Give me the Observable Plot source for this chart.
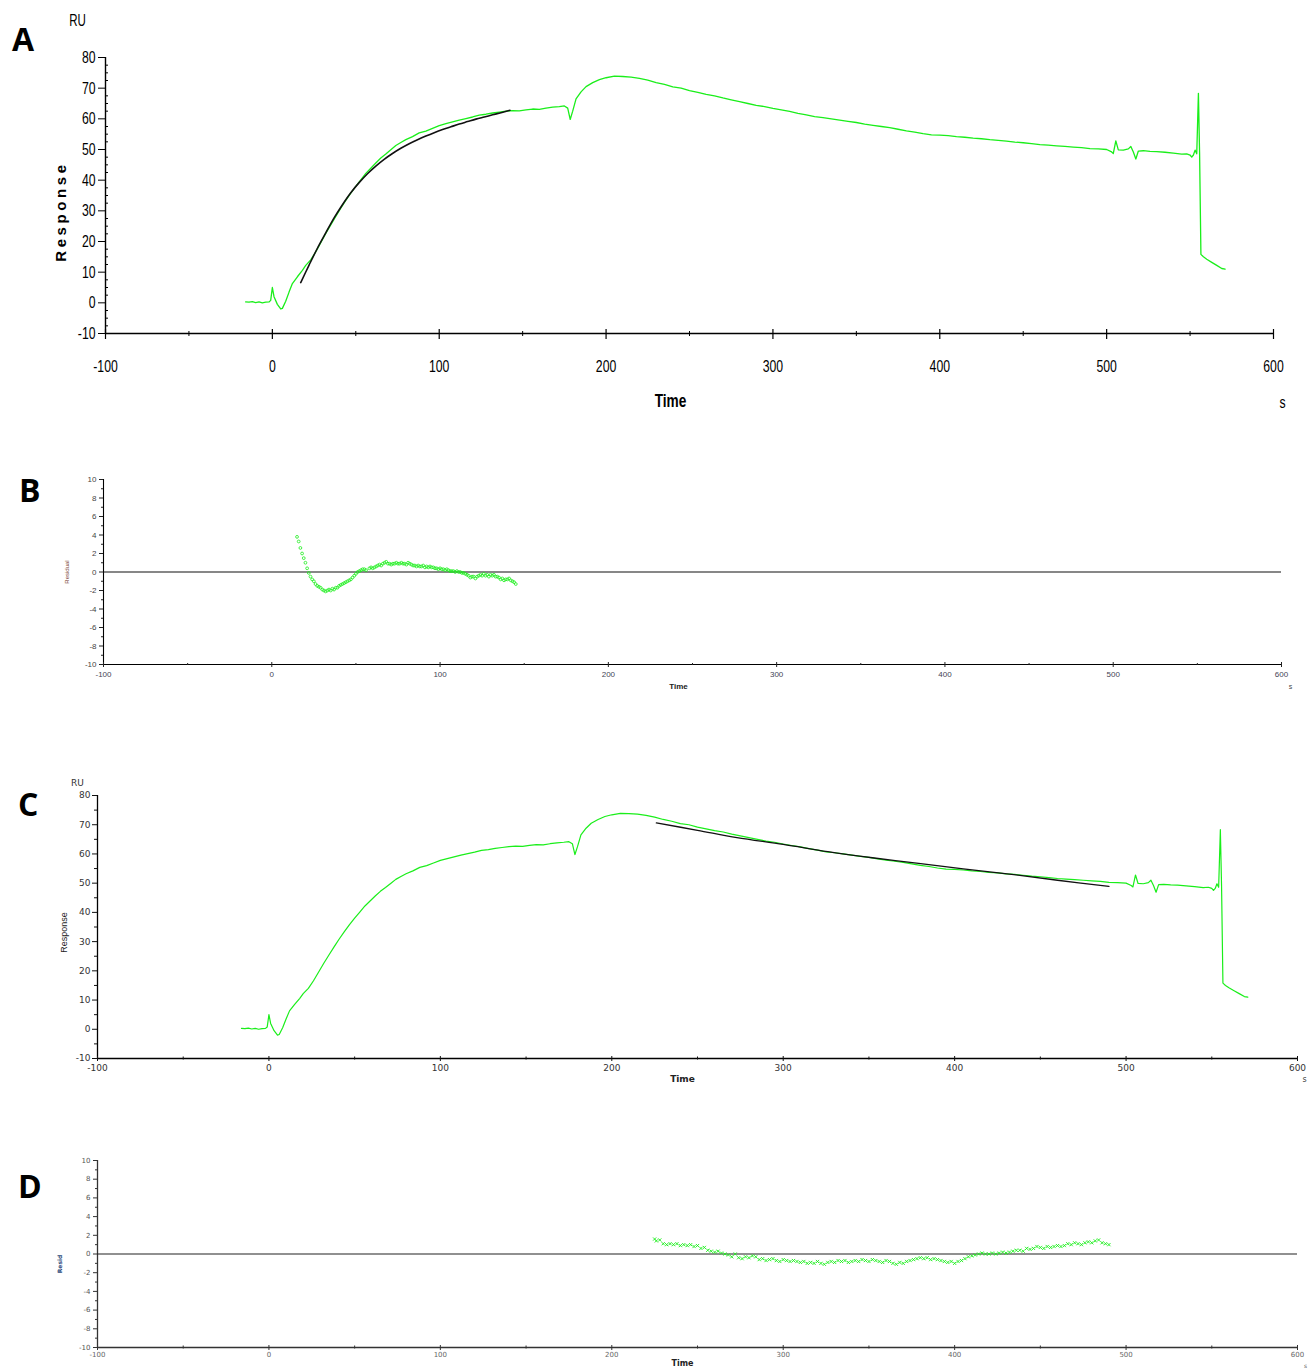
<!DOCTYPE html>
<html><head><meta charset="utf-8">
<script src="https://cdn.jsdelivr.net/npm/d3@7"></script>
<script src="https://cdn.jsdelivr.net/npm/@observablehq/plot@0.6"></script>
<style>
html,body{margin:0;padding:0;background:#fff;}
#wrap{position:relative;width:1309px;height:1370px;overflow:hidden;background:#fff;}
.panel{position:absolute;left:0;}
.panel svg{overflow:visible;}
.letter{position:absolute;font-family:"Open Sans","Liberation Sans",sans-serif;font-weight:700;font-size:32px;line-height:32px;color:#000;}
</style></head>
<body><div id="wrap">
<div class="panel" id="pA" style="top:0px"></div>
<div class="panel" id="pB" style="top:440px"></div>
<div class="panel" id="pC" style="top:760px"></div>
<div class="panel" id="pD" style="top:1120px"></div>
<div class="letter" style="left:12px;top:23px">A</div>
<div class="letter" style="left:19px;top:474px">B</div>
<div class="letter" style="left:18px;top:788px">C</div>
<div class="letter" style="left:18px;top:1170px">D</div>
</div>
<script>
// ---------- data (time s, response RU) ----------
const sensorgram = [
[-16,0.3],[-14,0.2],[-12,0.4],[-10,0.1],[-8,0.3],[-6,0.0],[-4,0.2],[-2,0.3],[-1,0.8],[0,5.0],[1,2.0],[3,-0.5],[5,-2.0],[6,-1.8],[8,0.5],[10,3.5],[12,6.3],[15,8.5],[18,10.6],[20,12.2],[23,14.0],[26,16.6],[29,19.6],[32,22.6],[35,25.4],[38,28.2],[41,30.9],[44,33.4],[47,35.8],[50,38.0],[53,40.1],[56,42.2],[59,43.9],[62,45.6],[65,47.2],[68,48.5],[71,49.9],[74,51.3],[77,52.3],[80,53.2],[84,54.2],[88,55.4],[92,56.0],[96,56.9],[100,57.8],[104,58.4],[108,59.0],[112,59.6],[116,60.1],[120,60.6],[124,61.2],[128,61.5],[132,61.9],[136,62.2],[140,62.5],[144,62.7],[148,62.6],[152,62.9],[156,63.2],[160,63.1],[164,63.5],[168,63.8],[172,64.0],[175,64.2],[177,63.5],[178.5,59.8],[180,62.5],[182,66.5],[185,68.8],[188,70.5],[192,71.8],[196,72.8],[200,73.4],[205,73.9],[210,73.8],[215,73.6],[220,73.2],[225,72.6],[230,71.8],[235,71.2],[240,70.4],[245,70.0],[250,69.2],[255,68.6],[260,68.0],[265,67.5],[270,66.8],[275,66.2],[280,65.6],[285,65.0],[290,64.4],[295,64.0],[300,63.4],[305,62.9],[310,62.4],[315,61.8],[320,61.3],[325,60.7],[330,60.4],[335,60.0],[340,59.6],[345,59.2],[350,58.8],[355,58.3],[360,57.9],[365,57.5],[370,57.1],[375,56.6],[380,56.1],[385,55.7],[390,55.2],[395,54.8],[400,54.7],[405,54.5],[410,54.2],[415,54.0],[420,53.7],[425,53.5],[430,53.2],[435,53.0],[440,52.7],[445,52.4],[450,52.2],[455,51.9],[460,51.6],[465,51.4],[470,51.2],[475,51.0],[480,50.8],[485,50.6],[490,50.3],[495,50.2],[500,50.0],[503,49.2],[504,48.7],[505.5,52.8],[507,49.9],[510,49.8],[513,50.2],[514.5,51.0],[516,49.2],[517.5,46.9],[519,49.5],[522,49.6],[526,49.4],[530,49.3],[535,49.1],[540,48.8],[545,48.5],[548,48.6],[550,48.2],[551,47.5],[552,48.2],[553,49.8],[554,48.6],[555,68.3],[555.7,49.0],[556.5,15.8],[558,15.0],[560,14.2],[563,13.2],[566,12.2],[569,11.2],[571,11.0]
];
// association fit (panel A)
const fitA = [[17,6.6],[22,12.3],[27,17.8],[32,22.8],[37,27.7],[42,32.0],[47,35.9],[52,39.2],[57,42.1],[62,44.6],[67,46.8],[72,48.7],[77,50.4],[82,51.9],[87,53.2],[92,54.4],[97,55.5],[102,56.5],[107,57.4],[112,58.3],[117,59.1],[122,59.9],[127,60.6],[132,61.3],[137,62.0],[142.4,62.8]];
// dissociation fit (panel C)
const fitC = [[226,70.6],[250,68.1],[273,65.6],[300,63.3],[326,60.8],[352,58.7],[379,56.8],[405,54.9],[432,53.1],[460,51.0],[490,48.9]];
// residuals (panel B)
const residB = [[15,3.8],[16,3.3],[17,2.6],[18,2.0],[19,1.5],[20,1.0],[21,0.4],[22,-0.1],[23,-0.5],[24,-0.8],[25,-1.0],[26,-1.3],[27,-1.5],[28,-1.6],[29,-1.7],[30,-1.9],[31,-2.0],[32,-2.1],[33,-2.0],[34,-1.9],[35,-2.0],[36,-1.8],[37,-1.9],[38,-1.7],[39,-1.7],[40,-1.5],[41,-1.4],[42,-1.3],[43,-1.2],[44,-1.1],[45,-1.0],[46,-0.9],[47,-0.8],[48,-0.6],[49,-0.4],[50,-0.2],[51,0.0],[52,0.1],[53,0.2],[54,0.3],[55,0.3],[56,0.2],[58,0.4],[59,0.5],[60,0.4],[61,0.5],[62,0.6],[63,0.7],[64,0.8],[65,0.7],[66,0.9],[67,1.0],[68,1.1],[69,0.9],[70,0.9],[71,0.8],[72,0.9],[73,0.9],[74,1.0],[75,0.9],[76,0.9],[77,1.0],[78,0.9],[79,0.9],[80,0.8],[81,1.0],[82,0.9],[83,0.8],[84,0.7],[85,0.7],[86,0.6],[87,0.7],[88,0.6],[89,0.6],[90,0.7],[91,0.5],[92,0.6],[93,0.5],[94,0.6],[95,0.5],[96,0.5],[97,0.4],[98,0.4],[99,0.3],[100,0.4],[101,0.3],[102,0.3],[103,0.2],[104,0.3],[105,0.2],[106,0.1],[107,0.1],[108,0.1],[109,0.0],[110,0.1],[111,0.0],[112,0.0],[113,-0.1],[114,-0.1],[115,-0.2],[116,-0.3],[117,-0.4],[118,-0.6],[119,-0.5],[120,-0.5],[121,-0.7],[122,-0.5],[123,-0.4],[124,-0.3],[125,-0.4],[126,-0.2],[127,-0.4],[128,-0.3],[129,-0.5],[130,-0.3],[131,-0.4],[132,-0.3],[133,-0.5],[134,-0.5],[135,-0.6],[136,-0.8],[137,-0.7],[138,-0.9],[139,-0.8],[140,-0.8],[141,-0.7],[142,-0.9],[143,-1.0],[144,-1.1],[145,-1.3]];
// residuals (panel D)
const residD = [[225,1.6],[226,1.4],[228,1.5],[230,1.1],[232,1.0],[234,1.1],[236,1.0],[238,1.1],[240,0.9],[242,1.0],[244,0.9],[246,1.0],[248,0.8],[250,0.9],[252,0.6],[254,0.7],[256,0.4],[258,0.3],[260,0.2],[262,0.3],[264,0.1],[266,0.0],[268,-0.1],[270,-0.3],[272,0.0],[274,-0.4],[276,-0.5],[278,-0.3],[280,-0.4],[282,-0.2],[284,-0.3],[286,-0.6],[288,-0.5],[290,-0.7],[292,-0.6],[294,-0.5],[296,-0.7],[298,-0.8],[300,-0.6],[302,-0.7],[304,-0.8],[306,-0.7],[308,-0.8],[310,-0.9],[312,-0.8],[314,-1.0],[316,-0.9],[318,-1.0],[320,-0.8],[322,-1.0],[324,-1.1],[326,-0.9],[328,-0.8],[330,-0.9],[332,-0.7],[334,-0.8],[336,-0.7],[338,-0.9],[340,-0.8],[342,-0.7],[344,-0.8],[346,-0.6],[348,-0.7],[350,-0.8],[352,-0.6],[354,-0.7],[356,-0.8],[358,-0.9],[360,-0.7],[362,-0.8],[364,-1.0],[366,-1.1],[368,-0.9],[370,-1.0],[372,-0.8],[374,-0.7],[376,-0.6],[378,-0.5],[380,-0.4],[382,-0.5],[384,-0.4],[386,-0.6],[388,-0.5],[390,-0.6],[392,-0.7],[394,-0.8],[396,-0.9],[398,-0.8],[400,-1.0],[402,-0.8],[404,-0.7],[406,-0.5],[408,-0.3],[410,-0.2],[412,-0.1],[414,0.0],[416,0.1],[418,0.0],[420,0.0],[422,0.1],[424,0.0],[426,0.1],[428,0.2],[430,0.1],[432,0.2],[434,0.3],[436,0.4],[438,0.4],[440,0.3],[442,0.6],[444,0.5],[446,0.6],[448,0.8],[450,0.7],[452,0.6],[454,0.8],[456,0.7],[458,0.8],[460,0.9],[462,0.8],[464,0.9],[466,1.1],[468,1.0],[470,1.2],[472,1.1],[474,1.0],[476,1.2],[478,1.3],[480,1.2],[482,1.4],[484,1.5],[486,1.2],[488,1.1],[490,1.0]];
// tick values
const xMajor = [-100,0,100,200,300,400,500,600];
const xMinor = [-50,50,150,250,350,450,550];
const yMajorRU = [-10,0,10,20,30,40,50,60,70,80];
const yMinorRU = [-7.5,-5,-2.5,2.5,5,7.5,12.5,15,17.5,22.5,25,27.5,32.5,35,37.5,42.5,45,47.5,52.5,55,57.5,62.5,65,67.5,72.5,75,77.5];
const yMinorRUc = [-5,5,15,25,35,45,55,65,75];
const yMajorRes = [-10,-8,-6,-4,-2,0,2,4,6,8,10];
const yMinorRes = [-9,-7,-5,-3,-1,1,3,5,7,9];

// ---------- helpers ----------
const green = "#1aee1a";
const fmt = d => String(d);
const blank = () => "";
const sans = '"Liberation Sans",Arial,sans-serif';
const X = d => d[0], Y = d => d[1];
const label = (s, o) => Plot.text([s], {text: d => d, textAnchor: "middle", lineAnchor: "middle", ...o});

// ---------- Panel A ----------
const plotA = Plot.plot({
  width: 1309, height: 420,
  marginLeft: 105, marginRight: 36, marginTop: 57, marginBottom: 87,
  x: {domain: [-100, 600]}, y: {domain: [-10, 80]},
  style: {fontFamily: sans, fontSize: "17px", color: "#000", background: "none"},
  marks: [
    Plot.ruleY([-10], {stroke: "#000", strokeWidth: 1.4}),
    Plot.ruleX([-100], {stroke: "#000", strokeWidth: 1.4}),
    Plot.axisX(xMajor, {tickSize: 10, dy: -4, tickFormat: blank, label: null, strokeWidth: 1.2}),
    Plot.axisX(xMinor, {tickSize: 5, dy: -2, tickFormat: blank, label: null}),
    Plot.axisX(xMajor, {tickSize: 0, tickPadding: 26, tickFormat: fmt, label: null, fontSize: 17}),
    Plot.axisY(yMajorRU, {tickSize: 7, tickPadding: 3, tickFormat: fmt, label: null, fontSize: 17}),
    Plot.axisY(yMinorRU, {tickSize: 3, dx: 3, tickFormat: blank, label: null}),
    Plot.line(sensorgram, {x: X, y: Y, stroke: green, strokeWidth: 1.3}),
    Plot.line(fitA, {x: X, y: Y, stroke: "#111", strokeWidth: 1.6, curve: "catmull-rom"}),
    label("Time", {frameAnchor: "bottom", dx: -19, dy: 67, fontWeight: "bold", fontSize: 19}),
    label("s", {frameAnchor: "bottom-right", dx: 9, dy: 69, fontSize: 17}),
    label("RU", {frameAnchor: "top-left", dx: -28, dy: -37, fontSize: 16}),
    label("Response", {frameAnchor: "left", dx: -44, dy: 16, rotate: -90, fontWeight: "bold", fontSize: 15})
  ]
});
document.getElementById("pA").appendChild(plotA);
// narrow look for panel A texts (condense glyph widths, positions untouched)
plotA.querySelectorAll("text").forEach(t => {
  const s = t.textContent;
  if (!s) return;
  if (s === "Response") { t.style.letterSpacing = "3.6px"; return; }
  const L = t.getComputedTextLength();
  if (L > 0) {
    t.setAttribute("textLength", (L * 0.72).toFixed(2));
    t.setAttribute("lengthAdjust", "spacingAndGlyphs");
  }
});

// ---------- Panel B ----------
const plotB = Plot.plot({
  width: 1309, height: 270,
  marginLeft: 103, marginRight: 28, marginTop: 39, marginBottom: 46,
  x: {domain: [-100, 600]}, y: {domain: [-10, 10]},
  style: {fontFamily: sans, fontSize: "8px", color: "#444", background: "none"},
  marks: [
    Plot.ruleY([-10], {stroke: "#000", strokeWidth: 1.2}),
    Plot.ruleX([-100], {stroke: "#000", strokeWidth: 1.1}),
    Plot.ruleY([0], {stroke: "#111", strokeWidth: 1.2}),
    Plot.axisX(xMajor, {tickSize: 5, dy: -2, tickFormat: blank, label: null, stroke: "#222"}),
    Plot.axisX(xMinor, {tickSize: 2, dy: -1, tickFormat: blank, label: null, stroke: "#222"}),
    Plot.axisX(xMajor, {tickSize: 0, tickPadding: 7, tickFormat: fmt, label: null, fill: "#445"}),
    Plot.axisY(yMajorRes, {tickSize: 4, tickPadding: 3, tickFormat: fmt, label: null, fill: "#444", stroke: "#222"}),
    Plot.axisY(yMinorRes, {tickSize: 2, tickFormat: blank, label: null, stroke: "#222"}),
    Plot.dot(residB, {x: X, y: Y, r: 1.4, stroke: green, strokeWidth: 0.8, fill: "none"}),
    label("Time", {frameAnchor: "bottom", dx: -14, dy: 22, fontWeight: "bold", fontSize: 8, fill: "#222"}),
    label("s", {frameAnchor: "bottom-right", dx: 9, dy: 22, fontSize: 7, fill: "#444"}),
    label("Residual", {frameAnchor: "left", dx: -36, rotate: -90, fontSize: 6, fill: "#7a4536"})
  ]
});
document.getElementById("pB").appendChild(plotB);

// ---------- Panel C ----------
const plotC = Plot.plot({
  width: 1309, height: 340,
  marginLeft: 97, marginRight: 12, marginTop: 35, marginBottom: 42,
  x: {domain: [-100, 600]}, y: {domain: [-10, 80]},
  style: {fontFamily: '"DejaVu Sans",Verdana,sans-serif', fontSize: "9px", color: "#333", background: "none"},
  marks: [
    Plot.ruleY([-10], {stroke: "#000", strokeWidth: 1.3}),
    Plot.ruleX([-100], {stroke: "#000", strokeWidth: 1.3}),
    Plot.axisX(xMajor, {tickSize: 5, dy: -2, tickFormat: blank, label: null, stroke: "#111"}),
    Plot.axisX(xMinor, {tickSize: 3, dy: -1.5, tickFormat: blank, label: null, stroke: "#111"}),
    Plot.axisX(xMajor, {tickSize: 0, tickPadding: 6, tickFormat: fmt, label: null, fill: "#333"}),
    Plot.axisY(yMajorRU, {tickSize: 5, tickPadding: 2, tickFormat: fmt, label: null, fill: "#333", stroke: "#111"}),
    Plot.axisY(yMinorRUc, {tickSize: 3, tickFormat: blank, label: null, stroke: "#111"}),
    Plot.line(sensorgram, {x: X, y: Y, stroke: green, strokeWidth: 1.2}),
    Plot.line(fitC, {x: X, y: Y, stroke: "#111", strokeWidth: 1.3, curve: "catmull-rom"}),
    label("Time", {frameAnchor: "bottom", dx: -15, dy: 21, fontWeight: "bold", fontSize: 9, fill: "#222"}),
    label("s", {frameAnchor: "bottom-right", dx: 7, dy: 21, fontSize: 8, fill: "#444"}),
    label("RU", {frameAnchor: "top-left", dx: -20, dy: -12, fontSize: 9, fill: "#333"}),
    label("Response", {frameAnchor: "left", dx: -33, dy: 5.5, rotate: -90, fontSize: 9, fill: "#222", fontFamily: sans})
  ]
});
document.getElementById("pC").appendChild(plotC);

// ---------- Panel D ----------
const plotD = Plot.plot({
  width: 1309, height: 250,
  marginLeft: 97, marginRight: 12, marginTop: 40, marginBottom: 23,
  x: {domain: [-100, 600]}, y: {domain: [-10, 10]},
  style: {fontFamily: '"DejaVu Sans",Verdana,sans-serif', fontSize: "7px", color: "#555", background: "none"},
  marks: [
    Plot.ruleY([-10], {stroke: "#333", strokeWidth: 1.3}),
    Plot.ruleX([-100], {stroke: "#333", strokeWidth: 1.3}),
    Plot.ruleY([0], {stroke: "#222", strokeWidth: 1.2}),
    Plot.axisX(xMajor, {tickSize: 5, dy: -2, tickFormat: blank, label: null, stroke: "#333"}),
    Plot.axisX(xMinor, {tickSize: 3, dy: -1.5, tickFormat: blank, label: null, stroke: "#333"}),
    Plot.axisX(xMajor, {tickSize: 0, tickPadding: 5, tickFormat: fmt, label: null, fill: "#666"}),
    Plot.axisY(yMajorRes, {tickSize: 4, tickPadding: 3, tickFormat: fmt, label: null, fill: "#555", stroke: "#333"}),
    Plot.axisY(yMinorRes, {tickSize: 2, tickFormat: blank, label: null, stroke: "#333"}),
    Plot.dot(residD, {x: X, y: Y, r: 1.6, symbol: "times", stroke: green, strokeWidth: 0.9}),
    label("Time", {frameAnchor: "bottom", dx: -15, dy: 16, fontWeight: "bold", fontSize: 8, fill: "#222"}),
    label("s", {frameAnchor: "bottom-right", dx: 8, dy: 19, fontSize: 6, fill: "#555"}),
    label("Resid", {frameAnchor: "left", dx: -37, dy: 10, rotate: -90, fontSize: 6, fontWeight: "bold", fill: "#2a4a7a"})
  ]
});
document.getElementById("pD").appendChild(plotD);
</script>
</body></html>
